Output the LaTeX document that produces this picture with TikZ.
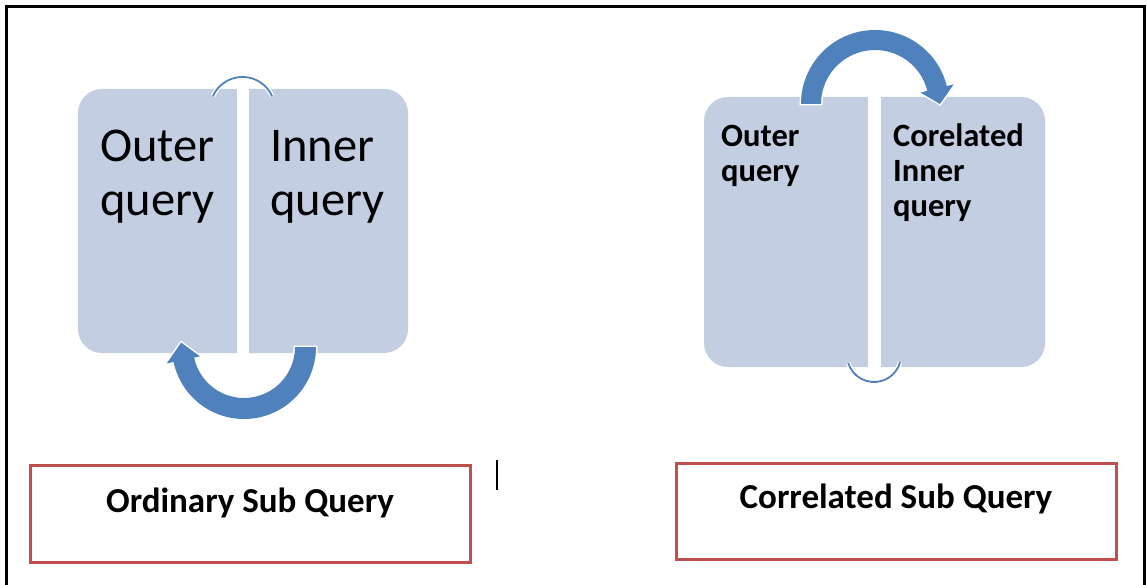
\documentclass[tikz,border=0pt]{standalone}
\usepackage{fontspec}
\setmainfont{Carlito}
\usetikzlibrary{calc}
\definecolor{panelblue}{RGB}{196,206,226}
\definecolor{arrowblue}{RGB}{79,129,189}
\definecolor{boxred}{RGB}{192,80,77}
\tikzset{
  panel/.style={fill=panelblue, draw=none, rounded corners=24pt, inner sep=0pt},
  gapstrip/.style={fill=white, draw=none, inner sep=0pt},
  redbox/.style={draw=boxred, line width=3pt, fill=none, inner sep=0pt},
  bigarrow/.style={fill=arrowblue, preaction={draw=white, line width=3pt}},
  thinarc/.style={draw=arrowblue, line width=1.8pt, preaction={draw=white, line width=4.5pt}},
  bigtxt/.style={anchor=base west, inner sep=0pt, font=\fontsize{48.5}{53}\selectfont},
  boldtxt/.style={anchor=base west, inner sep=0pt, font=\bfseries\fontsize{32.5}{36}\selectfont},
  captxt/.style={anchor=base, inner sep=0pt, font=\bfseries\fontsize{35}{40}\selectfont},
}
\begin{document}
\begin{tikzpicture}[x=1pt,y=-1pt]
\useasboundingbox (0,0) rectangle (1147,585);
\fill[white] (0,0) rectangle (1147,585);
% outer frame
\coordinate (f1) at (6,600);
\coordinate (f2) at (6,7);
\coordinate (f3) at (1144,7);
\coordinate (f4) at (1144,600);
\draw[line width=3pt, line join=miter] (f1) -- (f2) -- (f3) -- (f4);

% ---------- left panel ----------
\node[panel, minimum width=330pt, minimum height=264pt] (lpanel) at (243,221) {};
\node[gapstrip, minimum width=12pt, minimum height=280pt] (lgap) at (243,221) {};
\coordinate (cA) at (242.5,109.4);
\draw[thinarc] ($(cA)+(204:32.4)$) arc[start angle=204, end angle=336, radius=32.4];
\coordinate (cL) at (244,347);
\path[bigarrow] ($(cL)+(0:72)$) arc[start angle=0, end angle=168, radius=72]
  -- ($(cL)+(168:79)$) -- ($(cL)+(184:63)$) -- ($(cL)+(168:45)$)
  -- ($(cL)+(168:51)$) arc[start angle=168, end angle=0, radius=51] -- cycle;
\node[bigtxt] (lo1) at (100,162) {Outer};
\node[bigtxt] (lo2) at (100,215) {query};
\node[bigtxt] (li1) at (270,162) {Inner};
\node[bigtxt] (li2) at (270,215) {query};

% ---------- right panel ----------
\node[panel, minimum width=341pt, minimum height=270pt] (rpanel) at (874.5,232) {};
\node[gapstrip, minimum width=13pt, minimum height=290pt] (rgap) at (874.5,232) {};
\coordinate (cB) at (874,355);
\draw[thinarc] ($(cB)+(163:27)$) arc[start angle=163, end angle=15, radius=27];
\coordinate (cR) at (875,104);
\path[bigarrow] ($(cR)+(180:74)$) arc[start angle=180, end angle=346, radius=74]
  -- ($(cR)+(346:81)$) -- ($(cR)+(360:65)$) -- ($(cR)+(346:47)$)
  -- ($(cR)+(346:54)$) arc[start angle=346, end angle=180, radius=54] -- cycle;
\node[boldtxt] (ro1) at (721,147) {Outer};
\node[boldtxt] (ro2) at (721,182) {query};
\node[boldtxt] (rc1) at (893,147) {Corelated};
\node[boldtxt] (rc2) at (893,182) {Inner};
\node[boldtxt] (rc3) at (893,217) {query};

% ---------- captions ----------
\node[redbox, minimum width=440pt, minimum height=97pt] (ordbox) at (250,513.5) {};
\node[captxt] (ordtxt) at (250,512) {Ordinary Sub Query};
\node[redbox, minimum width=440pt, minimum height=96pt] (corbox) at (896,511) {};
\node[captxt] (cortxt) at (896,508) {Correlated Sub Query};

% text cursor
\coordinate (k1) at (497,460);
\coordinate (k2) at (497,490);
\draw[line width=1.5pt] (k1) -- (k2);
\end{tikzpicture}
\end{document}
